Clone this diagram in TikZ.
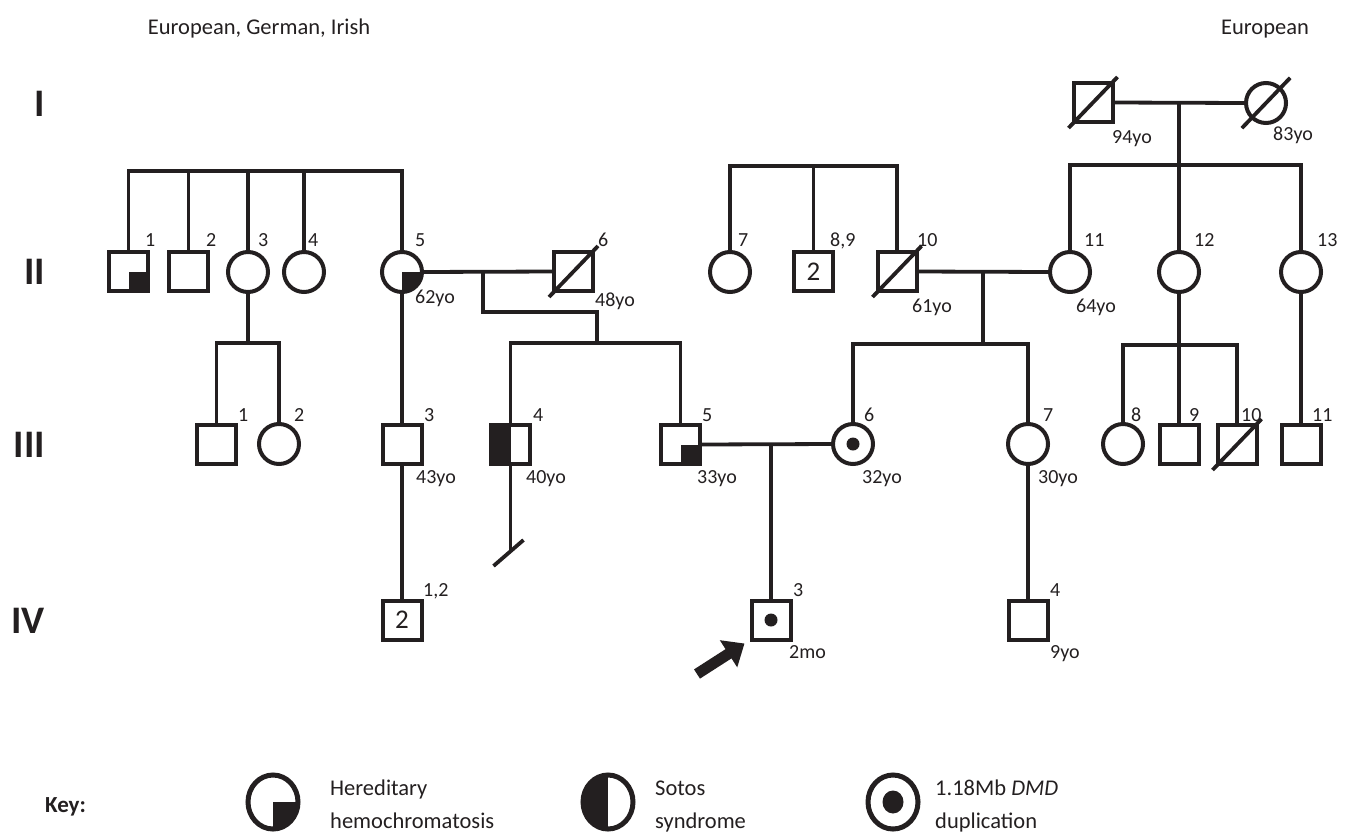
\documentclass[tikz,border=0pt]{standalone}
\usepackage{fontspec}
\setmainfont{Carlito}
\usetikzlibrary{arrows.meta,shapes.geometric}
\definecolor{ink}{HTML}{231F20}
\begin{document}
\begin{tikzpicture}[x=1pt,y=-1pt,line join=miter,
  ind/.style={draw=ink,line width=4pt,inner sep=0pt,outer sep=0pt,text=ink},
  male/.style={ind,rectangle,minimum size=39pt},
  female/.style={ind,circle,minimum size=40pt},
  hh/.style={path picture={\fill[ink] (path picture bounding box.center) rectangle (path picture bounding box.south east);}},
  sotos/.style={path picture={\fill[ink] (path picture bounding box.north west) rectangle (path picture bounding box.south);}},
  carrier/.style={path picture={\fill[ink] (path picture bounding box.center) circle (6.5pt);}},
  bigcarrier/.style={path picture={\fill[ink] (path picture bounding box.center) ellipse (10.5pt and 11.5pt);}},
  keysym/.style={ind,ellipse,minimum width=50pt,minimum height=54pt,line width=5pt},
  ln/.style={draw=ink,line width=3.8pt},
  num/.style={anchor=base west,inner sep=0pt,text=ink,font=\fontsize{20}{24}\selectfont},
  twin/.style={font=\fontsize{27}{30}\selectfont},
  gen/.style={anchor=base east,inner sep=0pt,text=ink,font=\bfseries\fontsize{39}{44}\selectfont},
  eth/.style={anchor=base,inner sep=0pt,text=ink,font=\fontsize{22.5}{27}\selectfont},
  keytxt/.style={anchor=base west,inner sep=0pt,text=ink,font=\fontsize{22.5}{27}\selectfont}
]
\path[use as bounding box] (0,0) rectangle (1348,838);

% ethnicity and generation labels
\node[eth] (ethL) at (259,34) {European, German, Irish};
\node[eth] (ethR) at (1265,34) {European};
\node[gen] (gI) at (45,116) {I};
\node[gen] (gII) at (45,284) {II};
\node[gen] (gIII) at (45,457) {III};
\node[gen] (gIV) at (45,633) {IV};

% Generation I
\node[male] (I1) at (1093,102.5) {};
\node[female] (I2) at (1266,103) {};

% Generation II
\node[male,hh] (II1) at (128.5,271.5) {};
\node[male] (II2) at (188.5,271.5) {};
\node[female] (II3) at (248,272) {};
\node[female] (II4) at (304,272) {};
\node[female,hh] (II5) at (402,272) {};
\node[male] (II6) at (573.5,271.5) {};
\node[female] (II7) at (730,272) {};
\node[male,twin] (II89) at (813.5,271.5) {2};
\node[male] (II10) at (897,271.5) {};
\node[female] (II11) at (1070,272) {};
\node[female] (II12) at (1179,272) {};
\node[female] (II13) at (1301,272) {};

% Generation III
\node[male] (III1) at (216.5,444.5) {};
\node[female] (III2) at (279,444) {};
\node[male] (III3) at (402,444.5) {};
\node[male,sotos] (III4) at (510.5,444.5) {};
\node[male,hh] (III5) at (680.5,444.5) {};
\node[female,carrier] (III6) at (853,444) {};
\node[female] (III7) at (1028,444) {};
\node[female] (III8) at (1123,444) {};
\node[male] (III9) at (1179,444.5) {};
\node[male] (III10) at (1237,444.5) {};
\node[male] (III11) at (1301,444.5) {};

% Generation IV
\node[male,twin] (IV12) at (402,620) {2};
\node[male,carrier] (IV3) at (771,620) {};
\node[male] (IV4) at (1028,620) {};

% deceased slashes
\foreach \n in {I1,II6,II10,III10}
  \draw[ln] ([shift={(-5,6)}]\n.south west) -- ([shift={(5,-6)}]\n.north east);
\draw[ln] ([shift={(-10,11)}]I2.south west) -- ([shift={(10,-11)}]I2.north east);

% left family
\coordinate (sA) at (0,171);
\draw[ln] (II1.north) |- (II5.north |- sA) -- (II5.north);
\foreach \n in {II2,II3,II4} \draw[ln] (\n.north) -- (\n.north |- sA);
\draw[ln] (II5.east) -- (II6.west);
\coordinate (mA) at (483,272);
\coordinate (dB) at (597,312);
\coordinate (sB) at (0,343);
\draw[ln] (mA) |- (dB) -- (dB |- sB);
\draw[ln] (III4.north) |- (III5.north |- sB) -- (III5.north);
\draw[ln] (II5.south) -- (III3.north);
\draw[ln] (III3.south) -- (IV12.north);
\draw[ln] (II3.south) -- (II3.south |- sB);
\draw[ln] (III1.north) |- (III2.north |- sB) -- (III2.north);
\coordinate (nf) at (510.5,551);
\draw[ln] (III4.south) -- (nf);
\draw[ln] ([shift={(-17,15)}]nf) -- ([shift={(13,-11)}]nf);

% proband couple
\draw[ln] (III5.east) -- (III6.west);
\coordinate (mC) at (771,444);
\draw[ln] (mC) -- (IV3.north);
\coordinate (arT) at (697,674);
\draw[ink,line width=11pt,-{Triangle[length=19pt,width=31pt]}] (arT) -- ([shift={(-7,4)}]IV3.south west);

% middle/right family
\coordinate (sC) at (0,166);
\draw[ln] (II7.north) |- (II10.north |- sC) -- (II10.north);
\draw[ln] (II89.north) -- (II89.north |- sC);
\draw[ln] (II10.east) -- (II11.west);
\coordinate (mD) at (983,272);
\coordinate (sD) at (0,344);
\draw[ln] (mD) -- (mD |- sD);
\draw[ln] (III6.north) |- (III7.north |- sD) -- (III7.north);
\draw[ln] (III7.south) -- (IV4.north);

\draw[ln] (I1.east) -- (I2.west);
\coordinate (mE) at (1179,103);
\coordinate (sE) at (0,165);
\draw[ln] (mE) -- (mE |- sE);
\draw[ln] (II11.north) |- (II13.north |- sE) -- (II13.north);
\draw[ln] (II12.north) -- (II12.north |- sE);
\coordinate (sF) at (0,345);
\draw[ln] (II12.south) -- (II12.south |- sF);
\draw[ln] (III8.north) |- (III10.north |- sF) -- (III10.north);
\draw[ln] (III9.north) -- (III9.north |- sF);
\draw[ln] (II13.south) -- (III11.north);

% numbers and ages
\node[num] (aI1) at (1112,143) {94yo};
\node[num] (aI2) at (1273,140) {83yo};
\node[num] (nII1) at (145,246) {1};
\node[num] (nII2) at (206,246) {2};
\node[num] (nII3) at (258,246) {3};
\node[num] (nII4) at (308,246) {4};
\node[num] (nII5) at (415,246) {5};
\node[num] (aII5) at (415,303) {62yo};
\node[num] (nII6) at (598,246) {6};
\node[num] (aII6) at (595,306) {48yo};
\node[num] (nII7) at (738,246) {7};
\node[num] (nII89) at (830,246) {8,9};
\node[num] (nII10) at (917,246) {10};
\node[num] (aII10) at (912,312) {61yo};
\node[num] (nII11) at (1084,246) {11};
\node[num] (aII11) at (1076,312) {64yo};
\node[num] (nII12) at (1194,246) {12};
\node[num] (nII13) at (1317,246) {13};

\node[num] (nIII1) at (238,421) {1};
\node[num] (nIII2) at (294,421) {2};
\node[num] (nIII3) at (424,421) {3};
\node[num] (aIII3) at (416,483) {43yo};
\node[num] (nIII4) at (533,421) {4};
\node[num] (aIII4) at (526,483) {40yo};
\node[num] (nIII5) at (702,421) {5};
\node[num] (aIII5) at (697,483) {33yo};
\node[num] (nIII6) at (864,421) {6};
\node[num] (aIII6) at (862,483) {32yo};
\node[num] (nIII7) at (1043,421) {7};
\node[num] (aIII7) at (1038,483) {30yo};
\node[num] (nIII8) at (1131,421) {8};
\node[num] (nIII9) at (1189,421) {9};
\node[num] (nIII10) at (1241,421) {10};
\node[num] (nIII11) at (1312,421) {11};

\node[num] (nIV12) at (423,596) {1,2};
\node[num] (nIV3) at (793,596) {3};
\node[num] (aIV3) at (789,658) {2mo};
\node[num] (nIV4) at (1050,596) {4};
\node[num] (aIV4) at (1050,658) {9yo};

% key
\node[anchor=base west,inner sep=0pt,text=ink,font=\bfseries\fontsize{23}{28}\selectfont] (keyL) at (45,812) {Key:};
\node[keysym,hh] (k1) at (273,802) {};
\node[keytxt] (k1a) at (330,795) {Hereditary};
\node[keytxt] (k1b) at (330,828) {hemochromatosis};
\node[keysym,sotos] (k2) at (608,802) {};
\node[keytxt] (k2a) at (655,795) {Sotos};
\node[keytxt] (k2b) at (655,828) {syndrome};
\node[keysym,bigcarrier] (k3) at (893,802) {};
\node[keytxt] (k3a) at (935,795) {1.18Mb \textit{DMD}};
\node[keytxt] (k3b) at (935,828) {duplication};
\end{tikzpicture}
\end{document}
